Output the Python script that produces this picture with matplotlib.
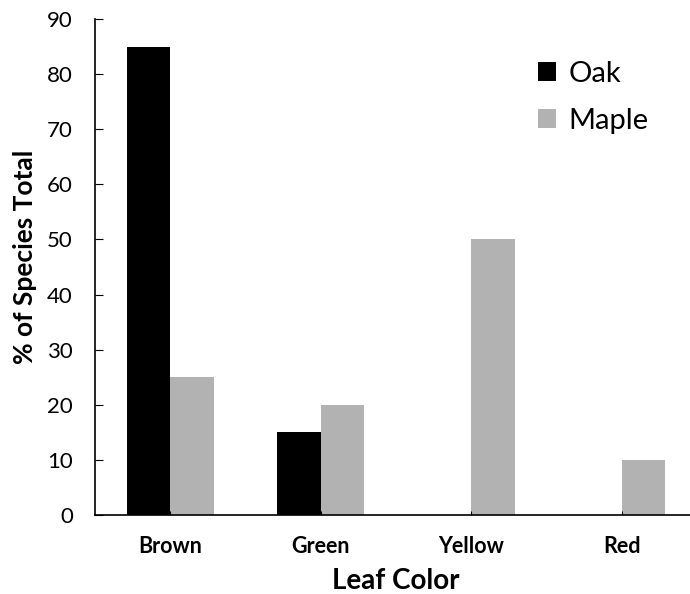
import matplotlib.pyplot as plt
import numpy as np

plt.rcParams['font.family'] = ['Lato', 'DejaVu Sans']

# leaf colour categories and % of each species
categories = ["Brown", "Green", "Yellow", "Red"]
oak = [85, 15, 0, 0]
maple = [25, 20, 50, 10]

x = np.arange(len(categories))
width = 0.29

fig = plt.figure(figsize=(6.9, 5.94), dpi=100)
ax = fig.add_axes([0.1377, 0.133, 0.8725, 0.835])

ax.bar(x - width / 2, oak, width, color='black', label='Oak')
ax.bar(x + width / 2, maple, width, color='#b2b2b2', label='Maple')

ax.set_xlim(-0.5, 3.5)
ax.set_ylim(0, 90)
ax.set_yticks(range(0, 91, 10))
ax.set_xticks(x)
ax.set_xticklabels(categories, fontsize=15.5, fontweight='bold')
ax.tick_params(axis='y', direction='in', length=6, labelsize=16, pad=16)
ax.tick_params(axis='x', direction='in', length=3, pad=15)

ax.spines['top'].set_visible(False)
ax.spines['right'].set_visible(False)
ax.spines['left'].set_linewidth(1.2)
ax.spines['bottom'].set_linewidth(1.2)

ax.set_xlabel("Leaf Color", fontsize=20, fontweight='bold', labelpad=8)
ax.set_ylabel("% of Species Total", fontsize=19, fontweight='bold')
ax.yaxis.set_label_coords(-0.097, 0.52)

ax.legend(loc='upper left', bbox_to_anchor=(0.735, 0.915), frameon=False,
          fontsize=21, handlelength=0.62, handleheight=0.62, handletextpad=0.45,
          labelspacing=0.7, borderpad=0, borderaxespad=0)

fig.savefig("out.png", dpi=100)
